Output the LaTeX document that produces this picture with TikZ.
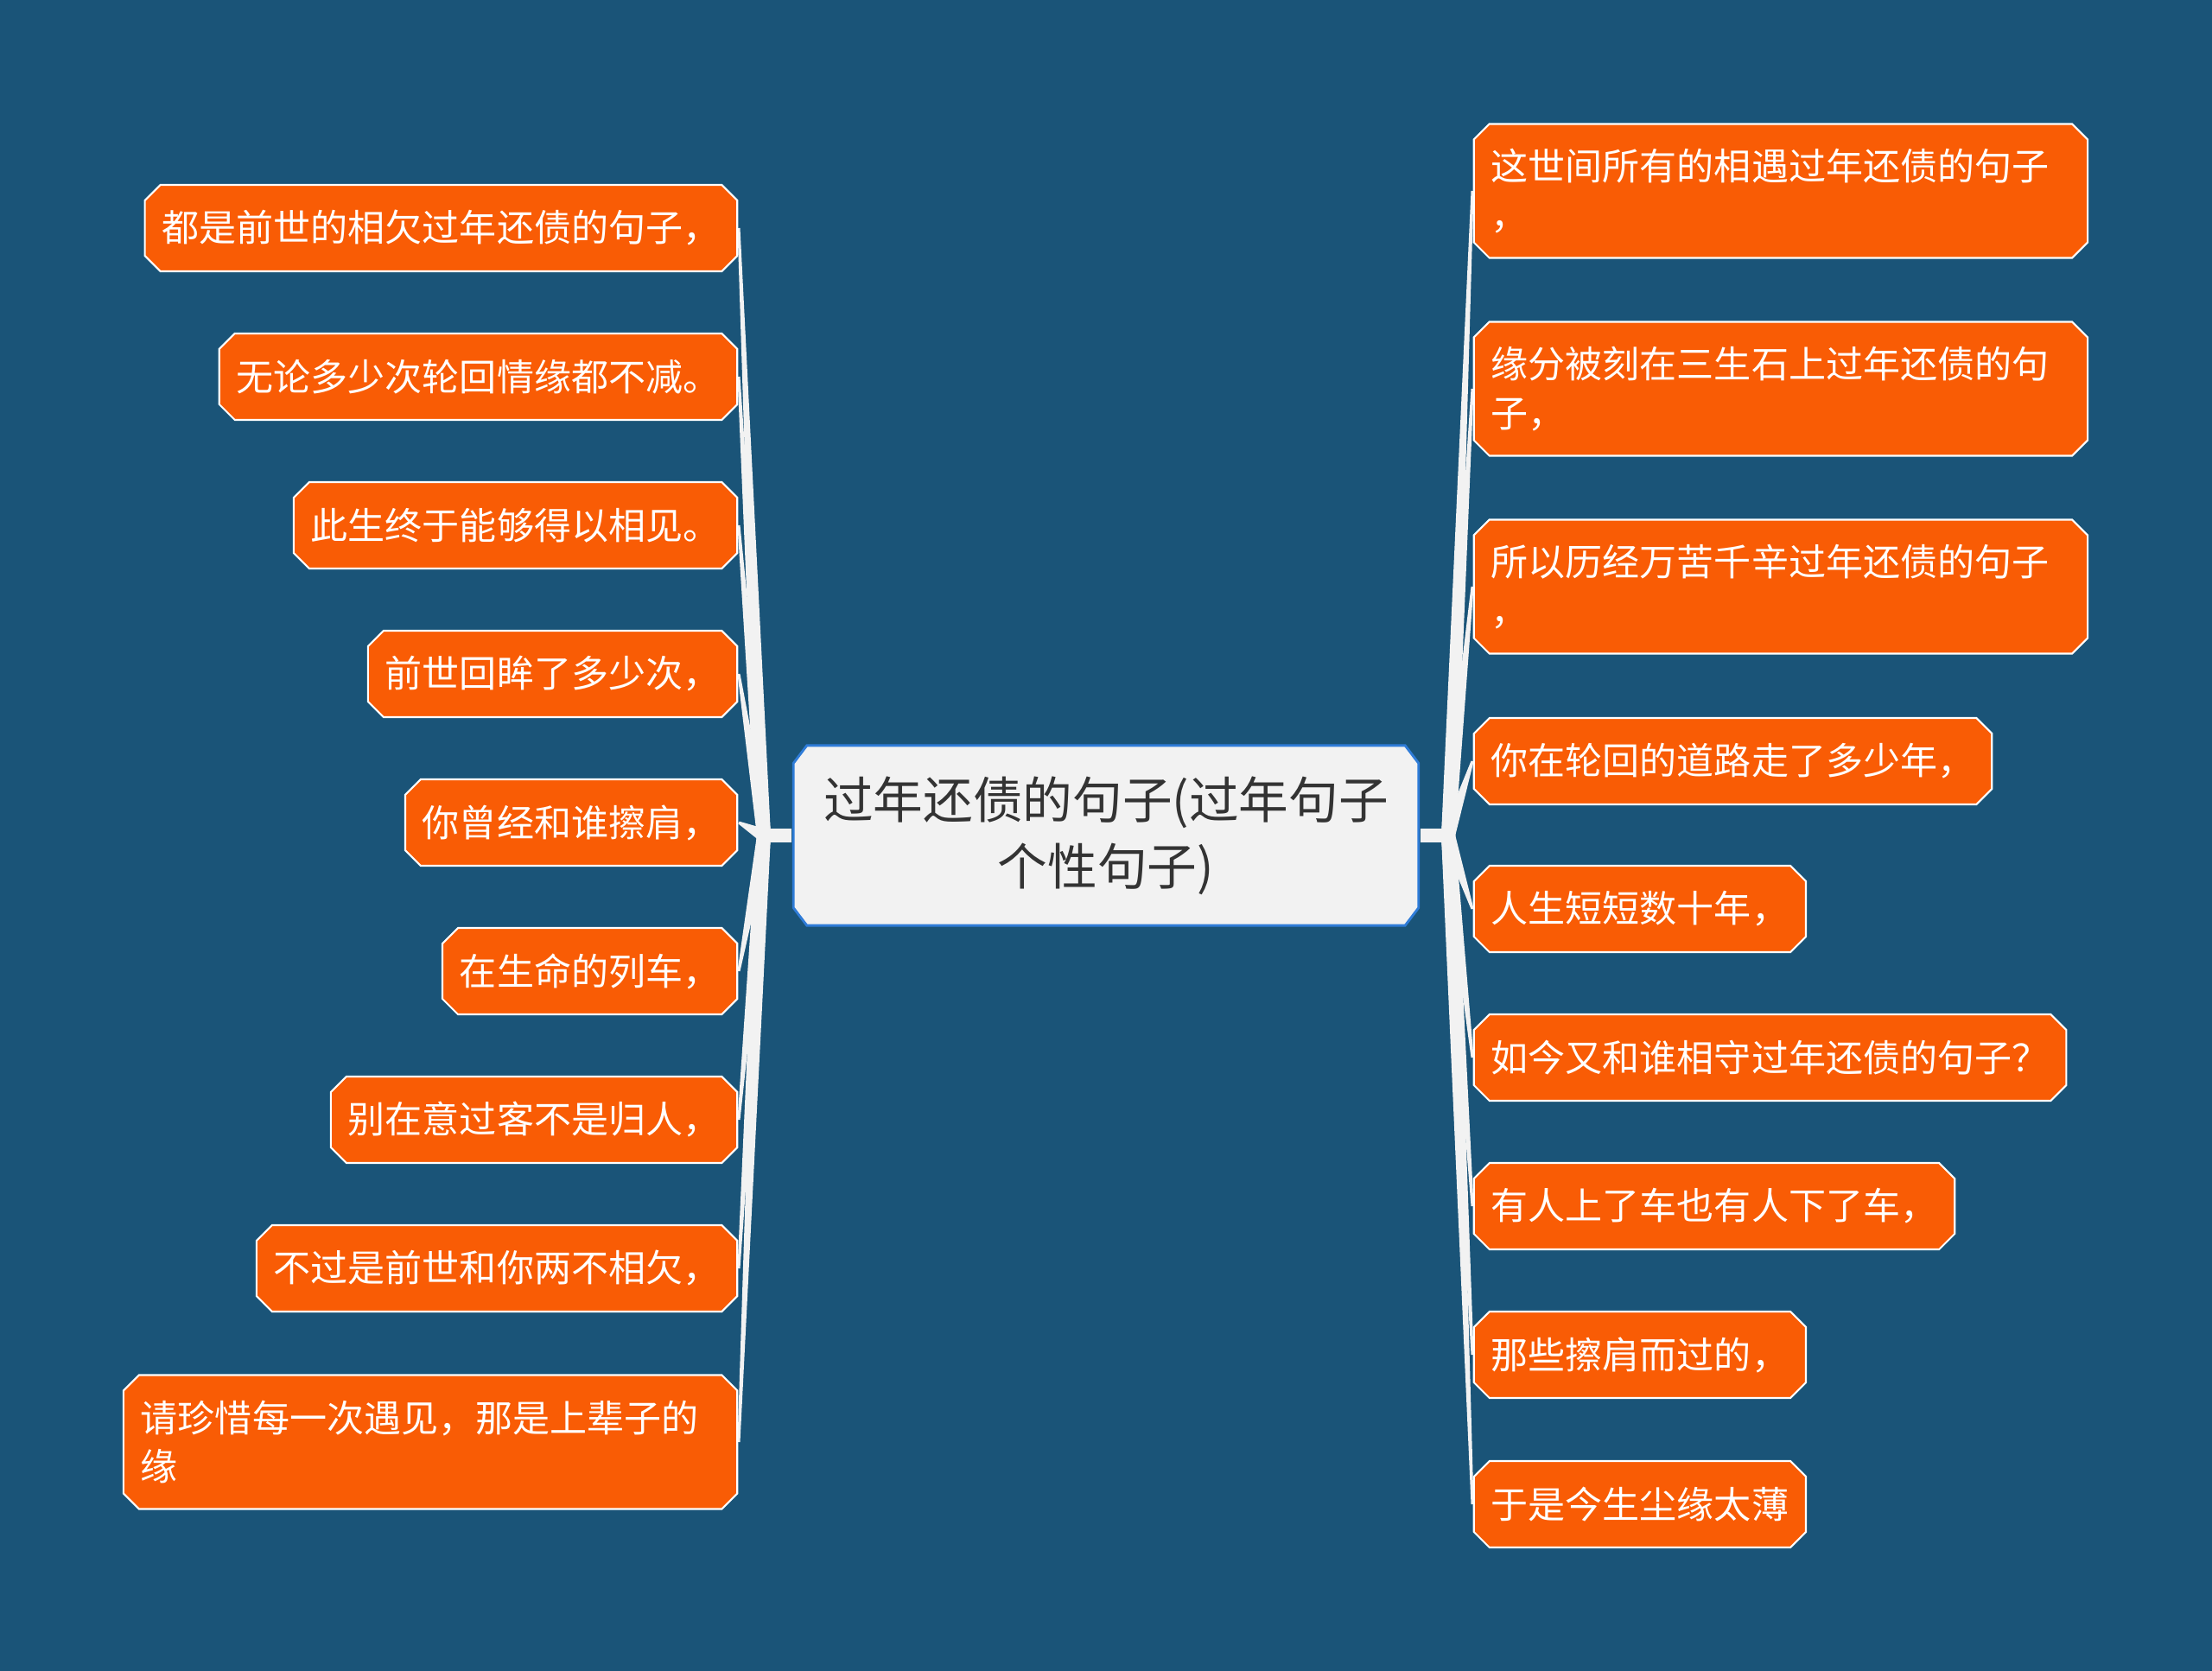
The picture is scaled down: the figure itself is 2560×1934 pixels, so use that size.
\documentclass[tikz,border=0pt]{standalone}
\usepackage{fontspec}
\newfontfamily\cjk{Noto Sans CJK SC}
\usetikzlibrary{calc}
\definecolor{cBack}{HTML}{1A5478}
\definecolor{cLeaf}{HTML}{F95C05}
\definecolor{cRoot}{HTML}{F2F2F2}
\definecolor{cRootLine}{HTML}{2F7CD8}
\definecolor{cText}{HTML}{333333}
\definecolor{cBranch}{HTML}{F2F2F2}
\pgfdeclarelayer{bg}
\pgfdeclarelayer{edges}
\pgfsetlayers{bg,edges,main}

% octagon inside the node box: #1 cut x, #2 cut y, #3 inset
\newcommand\octpath[3]{%
  ([shift={(#1,-#3)}]path picture bounding box.north west) --
  ([shift={(-#1,-#3)}]path picture bounding box.north east) --
  ([shift={(-#3,-#2)}]path picture bounding box.north east) --
  ([shift={(-#3,#2)}]path picture bounding box.south east) --
  ([shift={(-#1,#3)}]path picture bounding box.south east) --
  ([shift={(#1,#3)}]path picture bounding box.south west) --
  ([shift={(#3,#2)}]path picture bounding box.south west) --
  ([shift={(#3,-#2)}]path picture bounding box.north west) -- cycle}
% tapered branch from a joint to a leaf
\newcommand\branch[2]{\fill[branch] ($(#1)!.08cm!90:(#2)$) -- ($(#2)!.015cm!-90:(#1)$)
  -- ($(#2)!.015cm!90:(#1)$) -- ($(#1)!.08cm!-90:(#2)$) -- cycle;}

\tikzset{
  leaf/.style  = {rectangle, font=\cjk\fontsize{12.24pt}{16.2pt}\selectfont, text=white,
                  inner xsep=.21cm, inner ysep=0pt, minimum height=1.02cm, align=left,
                  path picture={\path[fill=cLeaf, draw=white, line width=.6pt] \octpath{.19cm}{.19cm}{.3pt};}},
  leaf2/.style = {leaf, text width=6.70cm, minimum height=1.57cm},
  root/.style  = {rectangle, font=\cjk\fontsize{16.4pt}{21.9pt}\selectfont, text=cText,
                  align=center, minimum width=7.26cm, minimum height=2.11cm,
                  path picture={\path[fill=cRoot, draw=cRootLine, line width=.8pt] \octpath{.17cm}{.22cm}{.4pt};}},
  branch/.style = {fill=cBranch},
  stub/.style   = {draw=cBranch, line width=.16cm},
}

\begin{document}
\begin{tikzpicture}[x=.01cm, y=-.01cm]
  \begin{pgfonlayer}{bg}
    \fill[cBack] (0,0) rectangle (2560,1934);
  \end{pgfonlayer}

  \node[root] (root) at (1280,967) {过年还债的句子(过年句子\\个性句子)};
  \coordinate (jl) at (884,967);
  \coordinate (jr) at (1676,967);

  % left side
  \node[leaf, anchor=east] (l1) at (855,264) {都是前世的相欠过年还债的句子，};
  \node[leaf, anchor=east] (l2) at (855,436) {无论多少次轮回情缘都不减。};
  \node[leaf, anchor=east] (l3) at (855,608) {此生终于能够得以相见。};
  \node[leaf, anchor=east] (l4) at (855,780) {前世回眸了多少次，};
  \node[leaf, anchor=east] (l5) at (855,952) {你曾经和谁擦肩，};
  \node[leaf, anchor=east] (l6) at (855,1124) {在生命的列车，};
  \node[leaf, anchor=east] (l7) at (855,1296) {别在意过客不是归人，};
  \node[leaf, anchor=east] (l8) at (855,1468) {不过是前世和你两不相欠，};
  \node[leaf2, anchor=east] (l9) at (855,1669) {请珍惜每一次遇见，那是上辈子的\\缘};

  % right side
  \node[leaf2, anchor=west] (r1) at (1704,221) {这世间所有的相遇过年还债的句子\\，};
  \node[leaf2, anchor=west] (r2) at (1704,450) {缘分被刻在三生石上过年还债的句\\子，};
  \node[leaf2, anchor=west] (r3) at (1704,679) {所以历经万苦千辛过年还债的句子\\，};
  \node[leaf, anchor=west] (r4) at (1704,881) {你在轮回的道路走了多少年，};
  \node[leaf, anchor=west] (r5) at (1704,1052) {人生短短数十年，};
  \node[leaf, anchor=west] (r6) at (1704,1224) {如今又和谁相守过年还债的句子？};
  \node[leaf, anchor=west] (r7) at (1704,1396) {有人上了车也有人下了车，};
  \node[leaf, anchor=west] (r8) at (1704,1568) {那些擦肩而过的，};
  \node[leaf, anchor=west] (r9) at (1704,1741) {于是今生尘缘太薄};

  \begin{pgfonlayer}{edges}
    \draw[stub] (root.west) -- (jl); \draw[stub] (root.east) -- (jr);
    \branch{jl}{l1.east} \branch{jl}{l2.east} \branch{jl}{l3.east}
    \branch{jl}{l4.east} \branch{jl}{l5.east} \branch{jl}{l6.east}
    \branch{jl}{l7.east} \branch{jl}{l8.east} \branch{jl}{l9.east}
    \branch{jr}{r1.west} \branch{jr}{r2.west} \branch{jr}{r3.west}
    \branch{jr}{r4.west} \branch{jr}{r5.west} \branch{jr}{r6.west}
    \branch{jr}{r7.west} \branch{jr}{r8.west} \branch{jr}{r9.west}
  \end{pgfonlayer}
\end{tikzpicture}
\end{document}
